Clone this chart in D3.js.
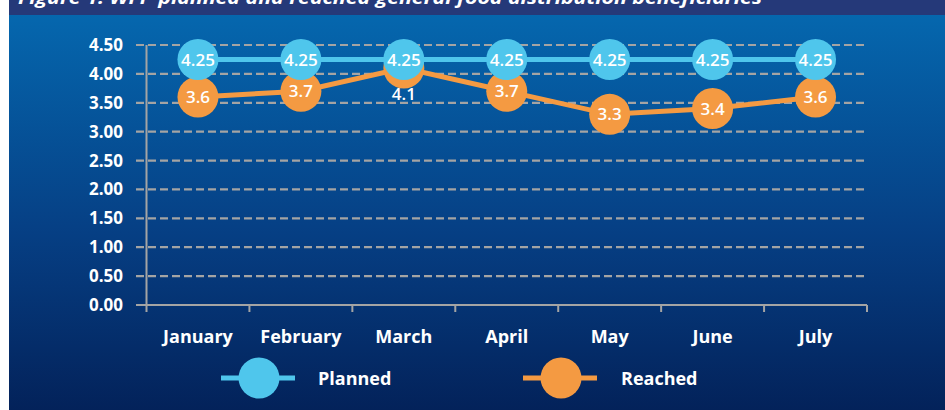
<!DOCTYPE html>
<html>
<head>
<meta charset="utf-8">
<script src="https://cdn.jsdelivr.net/npm/d3@7"></script>
<style>
  body { margin: 0; background: #fff; }
  text { font-family: "Open Sans", sans-serif; }
</style>
</head>
<body>
<div id="chart-area"></div>
<script>
const months = ['January', 'February', 'March', 'April', 'May', 'June', 'July']
const planned = [4.25, 4.25, 4.25, 4.25, 4.25, 4.25, 4.25]
const reached = [3.6, 3.7, 4.1, 3.7, 3.3, 3.4, 3.6]
const yTicks = [0, 0.5, 1, 1.5, 2, 2.5, 3, 3.5, 4, 4.5]
const seriesNames = ['Planned', 'Reached']

const W = 945, H = 410
const blue = '#4fc6ec', orange = '#f49a42', grid = '#a4a4a4'

const svg = d3.select('#chart-area').append('svg')
    .attr('width', W)
    .attr('height', H)

// background
const defs = svg.append('defs')
const grad = defs.append('linearGradient')
    .attr('id', 'bg').attr('x1', 0).attr('y1', 0).attr('x2', 0).attr('y2', 1)
grad.append('stop').attr('offset', '0%').attr('stop-color', '#0567ae')
grad.append('stop').attr('offset', '55%').attr('stop-color', '#063f84')
grad.append('stop').attr('offset', '100%').attr('stop-color', '#03225a')

svg.append('rect')
    .attr('x', 9).attr('y', 15).attr('width', W - 9).attr('height', H - 15)
    .attr('fill', 'url(#bg)')
svg.append('rect')
    .attr('x', 9).attr('y', 0).attr('width', W - 9).attr('height', 15)
    .attr('fill', '#253979')

// title is cropped at the top edge, as in the source figure
svg.append('text')
    .attr('x', 18).attr('y', 4)
    .attr('fill', '#fff')
    .attr('font-size', '18px')
    .attr('font-weight', 'bold')
    .attr('font-style', 'italic')
    .attr('textLength', 744)
    .attr('lengthAdjust', 'spacingAndGlyphs')
    .text('Figure 1: WFP planned and reached general food distribution beneficiaries')

const xScale = d3.scaleBand()
    .domain(months)
    .range([146.5, 867])
    .padding(0)

const yScale = d3.scaleLinear()
    .domain([0, 4.5])
    .range([305, 45])

// grid lines
svg.append('g')
    .selectAll('line')
    .data(yTicks.filter(d => d > 0))
    .enter().append('line')
    .attr('x1', 136).attr('x2', 867)
    .attr('y1', d => yScale(d)).attr('y2', d => yScale(d))
    .attr('stroke', grid)
    .attr('stroke-width', 2.2)
    .attr('stroke-dasharray', '8,4')

// y axis
const yAxisCall = d3.axisLeft(yScale)
    .tickValues(yTicks)
    .tickSize(0)
    .tickPadding(0)
    .tickFormat(d3.format('.2f'))
const yAxis = svg.append('g')
    .attr('class', 'y axis')
    .attr('transform', 'translate(123, 0)')
    .call(yAxisCall)
yAxis.select('.domain').remove()
yAxis.selectAll('text')
    .attr('fill', '#fff')
    .attr('font-size', '17px')
    .attr('font-weight', 'bold')
    .attr('font-family', '"Open Sans", sans-serif')

svg.append('line')
    .attr('x1', xScale.range()[0]).attr('x2', xScale.range()[0])
    .attr('y1', yScale(4.5)).attr('y2', yScale(0))
    .attr('stroke', grid).attr('stroke-width', 2)

svg.append('line')
    .attr('x1', 136).attr('x2', xScale.range()[1])
    .attr('y1', yScale(0)).attr('y2', yScale(0))
    .attr('stroke', grid).attr('stroke-width', 2)

// x ticks on band edges
const edges = months.map(m => xScale(m)).concat([xScale.range()[1]])
svg.append('g')
    .selectAll('line')
    .data(edges)
    .enter().append('line')
    .attr('x1', d => d).attr('x2', d => d)
    .attr('y1', yScale(0)).attr('y2', yScale(0) + 7)
    .attr('stroke', grid).attr('stroke-width', 2)

const xAxisCall = d3.axisBottom(xScale)
    .tickSize(0)
    .tickPadding(0)
const xAxis = svg.append('g')
    .attr('class', 'x axis')
    .attr('transform', `translate(0, ${yScale(0)})`)
    .call(xAxisCall)
xAxis.select('.domain').remove()
xAxis.selectAll('text')
    .attr('y', 38)
    .attr('dy', 0)
    .attr('fill', '#fff')
    .attr('font-size', '18px')
    .attr('font-weight', 'bold')
    .attr('font-family', '"Open Sans", sans-serif')

const cx = m => xScale(m) + xScale.bandwidth() / 2
const line = d3.line()
    .x((d, i) => cx(months[i]))
    .y(d => yScale(d))

function drawSeries(values, color, other) {
    const g = svg.append('g')
    g.append('path')
        .attr('d', line(values))
        .attr('fill', 'none')
        .attr('stroke', color)
        .attr('stroke-width', 5)
    g.selectAll('circle')
        .data(values)
        .enter().append('circle')
        .attr('cx', (d, i) => cx(months[i]))
        .attr('cy', d => yScale(d))
        .attr('r', 20.5)
        .attr('fill', color)
    g.selectAll('text')
        .data(values)
        .enter().append('text')
        .attr('x', (d, i) => cx(months[i]))
        .attr('y', (d, i) => {
            // label goes below when the other series' circle covers it
            const hidden = other && Math.abs(yScale(other[i]) - yScale(d)) < 15
            return yScale(d) + (hidden ? 26 : 0)
        })
        .attr('dy', '0.36em')
        .attr('text-anchor', 'middle')
        .attr('fill', '#fff')
        .attr('font-size', '17px')
        .attr('font-weight', 600)
        .text(d => d)
}

drawSeries(reached, orange, planned)
drawSeries(planned, blue, null)

// legend
const legend = svg.append('g')
const legendItems = [
    { name: seriesNames[0], color: blue, cx: 259, tx: 318 },
    { name: seriesNames[1], color: orange, cx: 561, tx: 621 }
]
legendItems.forEach(item => {
    legend.append('line')
        .attr('x1', item.cx - 38).attr('x2', item.cx + 36)
        .attr('y1', 378).attr('y2', 378)
        .attr('stroke', item.color).attr('stroke-width', 5)
    legend.append('circle')
        .attr('cx', item.cx).attr('cy', 378).attr('r', 20.5)
        .attr('fill', item.color)
    legend.append('text')
        .attr('x', item.tx).attr('y', 385)
        .attr('fill', '#fff')
        .attr('font-size', '18px')
        .attr('font-weight', 'bold')
        .text(item.name)
})
</script>
</body>
</html>
